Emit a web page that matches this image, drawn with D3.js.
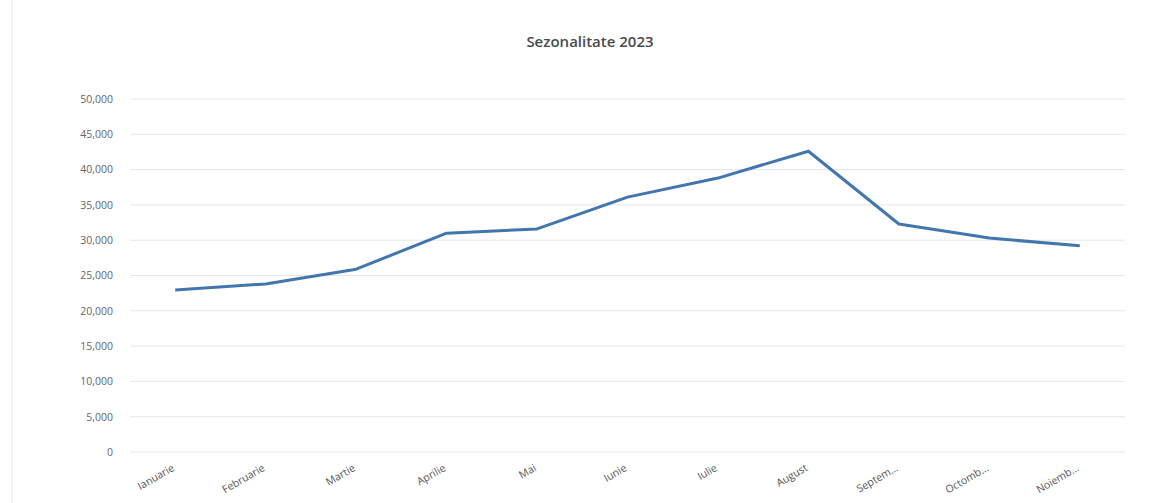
<!DOCTYPE html>
<html>
<head>
<meta charset="utf-8">
<script src="https://cdn.jsdelivr.net/npm/d3@7"></script>
<style>
  body { margin: 0; background: #fff; }
  text { font-family: "Open Sans", "Liberation Sans", sans-serif; }
</style>
</head>
<body>
<div id="chart"></div>
<script>
// Sezonalitate 2023 - monthly values
var months = ["Ianuarie", "Februarie", "Martie", "Aprilie", "Mai", "Iunie",
              "Iulie", "August", "Septem...", "Octomb...", "Noiemb..."];
var values = [22950, 23800, 25900, 31000, 31600, 36100, 38800, 42600, 32300, 30300, 29200];
var yTicks = [0, 5000, 10000, 15000, 20000, 25000, 30000, 35000, 40000, 45000, 50000];

var W = 1152, H = 503;
var margin = {top: 99, right: 27, bottom: 51, left: 130},
    w = W - margin.left - margin.right,
    h = H - margin.top - margin.bottom;

var svg = d3.select("#chart")
  .append("svg")
  .attr("width", W)
  .attr("height", H);

// chart border (left edge of the frame)
svg.append("line")
  .attr("x1", 12).attr("x2", 12)
  .attr("y1", 0).attr("y2", H)
  .attr("stroke", "#e2e2e2");

svg.append("text")
  .attr("x", 590)
  .attr("y", 47)
  .attr("text-anchor", "middle")
  .style("font-size", "15px")
  .style("font-weight", "600")
  .style("fill", "#4a4a4a")
  .text("Sezonalitate 2023");

var g = svg.append("g")
  .attr("transform", "translate(" + margin.left + "," + margin.top + ")");

var x = d3.scaleBand()
  .domain(months)
  .range([0, w]);

var y = d3.scaleLinear()
  .domain([0, 50000])
  .range([h, 0]);

// gridlines
g.append("g")
  .selectAll("line")
  .data(yTicks)
  .enter()
  .append("line")
  .attr("x1", 0)
  .attr("x2", w)
  .attr("y1", function(d) { return y(d); })
  .attr("y2", function(d) { return y(d); })
  .attr("stroke", "#e6e6e6")
  .attr("stroke-width", 1);

// y axis labels
var yAxis = g.append("g")
  .call(d3.axisLeft(y)
    .tickValues(yTicks)
    .tickSize(0)
    .tickPadding(17)
    .tickFormat(function(d) { return d === 0 ? "0" : d3.format(",")(d); }));
yAxis.select(".domain").remove();
yAxis.selectAll("text")
  .style("font-size", "10.5px")
  .style("fill", "#666");

// x axis labels
var xAxis = g.append("g")
  .attr("transform", "translate(0," + h + ")")
  .call(d3.axisBottom(x).tickSize(0).tickPadding(0));
xAxis.select(".domain").remove();
xAxis.selectAll("text")
  .style("font-size", "10.5px")
  .style("fill", "#555")
  .attr("text-anchor", "end")
  .attr("dy", "0")
  .attr("transform", "translate(0,18) rotate(-30)");

// the line
g.append("path")
  .datum(values)
  .attr("fill", "none")
  .attr("stroke", "#4276ad")
  .attr("stroke-width", 3)
  .attr("stroke-linejoin", "round")
  .attr("d", d3.line()
    .x(function(d, i) { return x(months[i]) + x.bandwidth() / 2; })
    .y(function(d) { return y(d); }));
</script>
</body>
</html>
